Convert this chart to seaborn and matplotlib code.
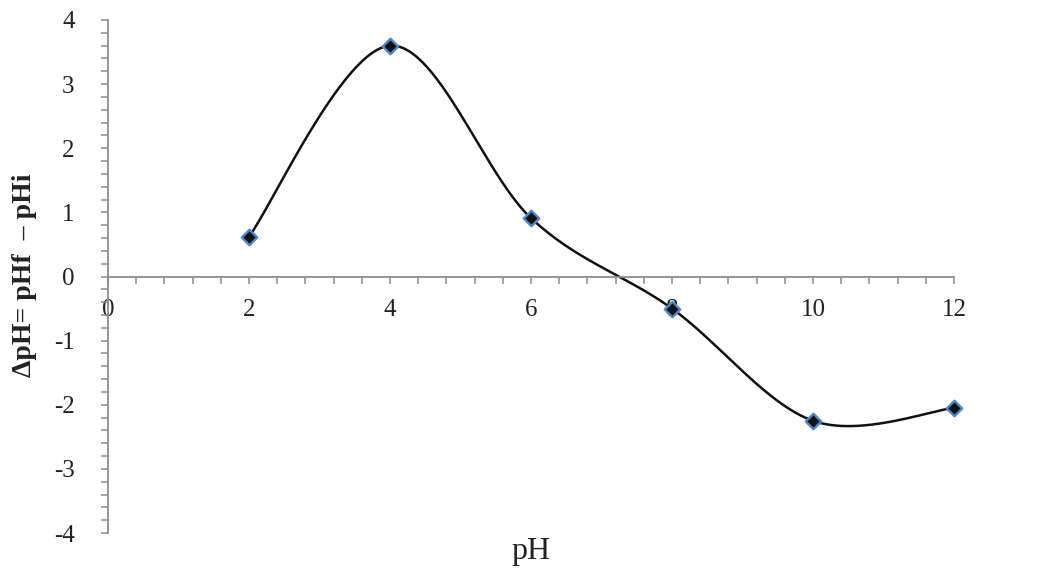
import numpy as np
import pandas as pd
import matplotlib
matplotlib.use("Agg")
import matplotlib.pyplot as plt
from matplotlib.ticker import MultipleLocator
import seaborn as sns

# Measured change in pH against initial pH
ph_initial = [2, 4, 6, 8, 10, 12]
delta_ph = [0.62, 3.60, 0.91, -0.50, -2.25, -2.05]

x_ticks = [0, 2, 4, 6, 8, 10, 12]
y_ticks = [-4, -3, -2, -1, 0, 1, 2, 3, 4]


def smooth_curve(xs, ys, n=60):
    """Cubic Bezier smoothing through every point (Catmull-Rom style controls)."""
    pts = np.column_stack([xs, ys]).astype(float)
    padded = np.vstack([pts[0], pts, pts[-1]])
    t = np.linspace(0, 1, n)[:, None]
    out = []
    for i in range(1, len(padded) - 2):
        p0, p1 = padded[i], padded[i + 1]
        c1 = p0 + (padded[i + 1] - padded[i - 1]) / 6.0
        c2 = p1 - (padded[i + 2] - padded[i]) / 6.0
        seg = ((1 - t) ** 3) * p0 + 3 * ((1 - t) ** 2) * t * c1 \
            + 3 * (1 - t) * t ** 2 * c2 + t ** 3 * p1
        out.append(seg if i == 1 else seg[1:])
    curve = np.vstack(out)
    return pd.DataFrame({"pH": curve[:, 0], "dpH": curve[:, 1]})


sns.set_style("white")
plt.rcParams["font.family"] = ["Liberation Serif", "DejaVu Serif"]

fig = plt.figure(figsize=(10.63, 5.76), dpi=100)
ax = fig.add_axes([108 / 1063, 1 - 533 / 576, (954 - 108) / 1063, (533 - 20) / 576])

points = pd.DataFrame({"pH": ph_initial, "dpH": delta_ph})
sns.lineplot(data=smooth_curve(ph_initial, delta_ph), x="pH", y="dpH", ax=ax,
             color="#111111", linewidth=1.8, sort=False, estimator=None)
sns.scatterplot(data=points, x="pH", y="dpH", ax=ax, marker="D", s=62,
                color="#111111", edgecolor="#4f86c6", linewidth=1.7, zorder=5,
                clip_on=False)

ax.set_xlim(0, 12)
ax.set_ylim(-4, 4)

axis_grey = "#8c8c8c"
for side in ("top", "right"):
    ax.spines[side].set_visible(False)
ax.spines["bottom"].set_position(("data", 0))
ax.spines["left"].set_position(("data", 0))
for side in ("bottom", "left"):
    ax.spines[side].set_color(axis_grey)
    ax.spines[side].set_linewidth(1.3)

ax.set_xticks(x_ticks)
ax.set_xticklabels([str(v) for v in x_ticks])
ax.set_yticks(y_ticks)
ax.set_yticklabels([str(v) for v in y_ticks])
ax.xaxis.set_minor_locator(MultipleLocator(0.4))
ax.yaxis.set_minor_locator(MultipleLocator(0.2))

ax.tick_params(axis="both", which="both", direction="out", length=5,
               width=1.1, color=axis_grey, labelsize=18, labelcolor="#222222",
               bottom=True, left=True, top=False, right=False)
ax.tick_params(axis="x", which="major", pad=11)
ax.tick_params(axis="y", which="major", pad=19)

ax.set_xlabel("")
ax.set_ylabel("")
fig.text(531 / 1063, 1 - 551 / 576, "pH", ha="center", va="center",
         fontsize=23, color="#222222")
fig.text(25 / 1063, 1 - 275 / 576, "ΔpH= pHf  – pHi", ha="center", va="center",
         rotation=90, fontsize=20, fontweight="bold", color="#222222")

fig.savefig("out.png", dpi=100)
